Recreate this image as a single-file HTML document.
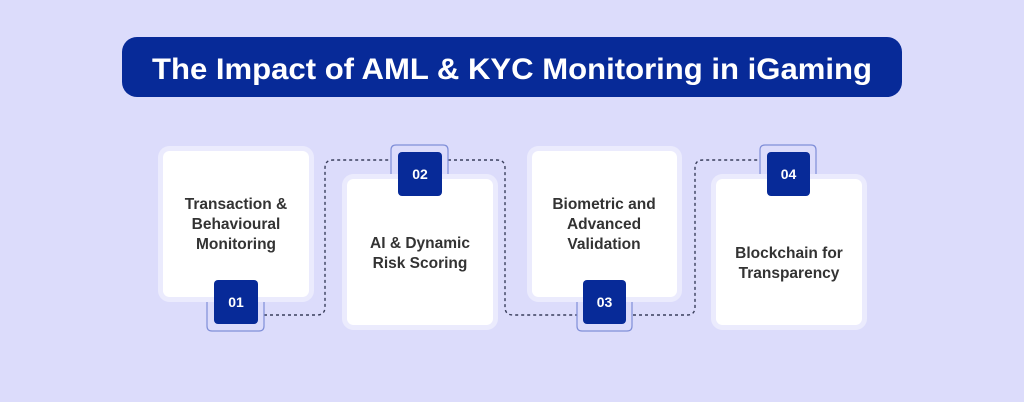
<!DOCTYPE html>
<html><head><style>
html,body{margin:0;padding:0;background:#dcdcfb;}
svg{display:block}
text{font-family:"Liberation Sans",Arial,sans-serif;font-weight:bold}
</style></head><body>
<svg width="1024" height="402" viewBox="0 0 1024 402" xmlns="http://www.w3.org/2000/svg">
<rect width="1024" height="402" fill="#dcdcfb"/>
<rect x="122" y="37" width="780" height="60" rx="15" fill="#072a98"/>
<text x="512" y="79" text-anchor="middle" fill="#fff" font-size="30" textLength="720" lengthAdjust="spacingAndGlyphs">The Impact of AML &amp; KYC Monitoring in iGaming</text>

<g fill="none" stroke="#3a3f5c" stroke-width="1.4" stroke-dasharray="3,3">
<path d="M264 315 H317 Q325 315 325 307 V168 Q325 160 333 160 H391"/>
<path d="M448 160 H497 Q505 160 505 168 V307 Q505 315 513 315 H577"/>
<path d="M633 315 H687 Q695 315 695 307 V168 Q695 160 703 160 H760"/>
</g>

<g fill="#dcdcfb" stroke="#7f8ed8" stroke-width="1.2">
<path d="M207 300 V326 Q207 331 212 331 H259 Q264 331 264 326 V300"/>
<path d="M391 178 V150 Q391 145 396 145 H443 Q448 145 448 150 V178"/>
<path d="M577 300 V326 Q577 331 582 331 H627 Q632 331 632 326 V300"/>
<path d="M760 178 V150 Q760 145 765 145 H811 Q816 145 816 150 V178"/>
</g>

<g fill="#fff" stroke="#ebebfd" stroke-width="5">
<rect x="160.5" y="148.5" width="151" height="151" rx="9"/>
<rect x="344.5" y="176.5" width="151" height="151" rx="9"/>
<rect x="529.5" y="148.5" width="150" height="151" rx="9"/>
<rect x="713.5" y="176.5" width="151" height="151" rx="9"/>
</g>

<g fill="#072a98">
<rect x="214" y="280" width="44" height="44" rx="4"/>
<rect x="398" y="152" width="44" height="44" rx="4"/>
<rect x="583" y="280" width="43" height="44" rx="4"/>
<rect x="767" y="152" width="43" height="44" rx="4"/>
</g>
<g fill="#fff" font-size="14" text-anchor="middle">
<text x="236" y="307">01</text>
<text x="420" y="179">02</text>
<text x="604.5" y="307">03</text>
<text x="788.5" y="179">04</text>
</g>

<g fill="#333" font-size="15.5" text-anchor="middle">
<text x="236" y="209">Transaction &amp;</text>
<text x="236" y="229">Behavioural</text>
<text x="236" y="249">Monitoring</text>
<text x="420" y="248">AI &amp; Dynamic</text>
<text x="420" y="268">Risk Scoring</text>
<text x="604" y="209">Biometric and</text>
<text x="604" y="229">Advanced</text>
<text x="604" y="249">Validation</text>
<text x="789" y="258">Blockchain for</text>
<text x="789" y="278">Transparency</text>
</g>
</svg>
</body></html>
